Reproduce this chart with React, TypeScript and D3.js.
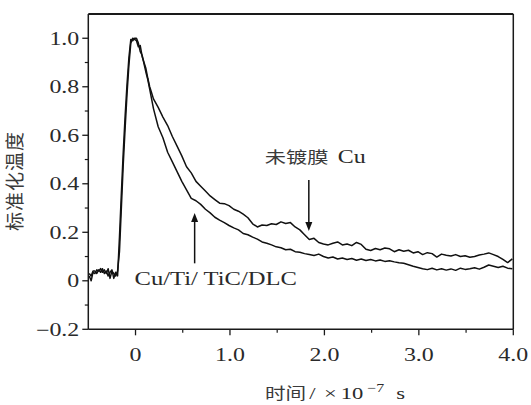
import React from 'react';
import * as d3 from 'd3';

const times = [
  -0.49, -0.47, -0.45, -0.43, -0.41, -0.39, -0.37, -0.35, -0.33, -0.31, -0.29, -0.27, -0.25, -0.23, -0.21, -0.19,
  -0.17, -0.15, -0.13, -0.11, -0.09, -0.07, -0.05, -0.03, -0.01,
  0.01, 0.03, 0.05, 0.07, 0.09, 0.11, 0.13, 0.15, 0.17, 0.19,
  0.24, 0.29, 0.34, 0.39, 0.44, 0.49, 0.54, 0.59, 0.64, 0.69,
  0.74, 0.79, 0.84, 0.89, 0.94, 0.99, 1.04, 1.09, 1.14, 1.19,
  1.24, 1.29, 1.34, 1.39, 1.44, 1.49, 1.54, 1.59, 1.64, 1.69,
  1.74, 1.79, 1.84, 1.89, 1.94, 1.99, 2.04, 2.09, 2.14, 2.19,
  2.24, 2.29, 2.34, 2.39, 2.44, 2.49, 2.54, 2.59, 2.64, 2.69,
  2.74, 2.79, 2.84, 2.89, 2.94, 2.99, 3.04, 3.09, 3.14, 3.19,
  3.24, 3.29, 3.34, 3.39, 3.44, 3.49, 3.54, 3.59, 3.64, 3.69,
  3.74, 3.79, 3.84, 3.89, 3.94, 3.99,
];

// 未镀膜 Cu (upper tail)
const cuValues = [
  0.02, 0.0, 0.035, 0.03, 0.045, 0.04, 0.05, 0.035, 0.045, 0.03, 0.05, 0.01, 0.04, 0.03, 0.02, 0.04,
  0.12, 0.3, 0.48, 0.63, 0.77, 0.89, 0.98, 1.0, 0.995,
  0.99, 0.965, 0.97, 0.925, 0.9, 0.875, 0.835, 0.8, 0.775, 0.75,
  0.715, 0.675, 0.64, 0.595, 0.555, 0.515, 0.47, 0.445, 0.41, 0.39,
  0.37, 0.35, 0.335, 0.32, 0.318, 0.31, 0.295, 0.287, 0.275, 0.26,
  0.235, 0.222, 0.23, 0.228, 0.235, 0.232, 0.243, 0.236, 0.24, 0.222,
  0.21, 0.19, 0.17, 0.175, 0.158, 0.152, 0.148, 0.155, 0.16, 0.148,
  0.152, 0.145, 0.158, 0.15, 0.13, 0.125, 0.133, 0.128, 0.135, 0.132,
  0.12, 0.128, 0.122, 0.126, 0.115, 0.12, 0.108, 0.116, 0.112, 0.098,
  0.11, 0.105, 0.102, 0.108, 0.1, 0.103, 0.097, 0.1, 0.106, 0.11,
  0.115, 0.108, 0.1, 0.088, 0.075, 0.09,
];

// Cu/Ti/ TiC/DLC (lower tail)
const dlcValues = [
  0.03, 0.02, 0.04, 0.04, 0.03, 0.045, 0.035, 0.05, 0.03, 0.04, 0.02, 0.035, 0.045, 0.01, 0.035, 0.02,
  0.18, 0.36, 0.53, 0.68, 0.81, 0.92, 0.995, 0.99, 1.0,
  1.0, 0.98, 0.945, 0.93, 0.895, 0.86, 0.83, 0.79, 0.75, 0.71,
  0.635, 0.59, 0.53, 0.49, 0.45, 0.41, 0.375, 0.34, 0.33, 0.315,
  0.295, 0.28, 0.262, 0.25, 0.24, 0.228, 0.218, 0.21, 0.195, 0.19,
  0.18, 0.172, 0.16, 0.155, 0.148, 0.14, 0.136, 0.128, 0.13, 0.12,
  0.118, 0.112, 0.108, 0.104, 0.11, 0.1, 0.094, 0.098, 0.09, 0.094,
  0.088, 0.092, 0.085, 0.09, 0.084, 0.088, 0.082, 0.086, 0.08, 0.083,
  0.078, 0.074, 0.072, 0.066, 0.06, 0.055, 0.05, 0.046, 0.052, 0.045,
  0.05, 0.044, 0.049, 0.043, 0.052, 0.047, 0.05, 0.054, 0.048, 0.056,
  0.065, 0.06, 0.055, 0.06, 0.052, 0.05,
];

const yTicks = [-0.2, 0, 0.2, 0.4, 0.6, 0.8, 1.0];
const yTickLabels = ['\u22120.2', '0', '0.2', '0.4', '0.6', '0.8', '1.0'];
const yMinorTicks = [-0.1, 0.1, 0.3, 0.5, 0.7, 0.9];
const xTicks = [0, 1, 2, 3, 4];
const xTickLabels = ['0', '1.0', '2.0', '3.0', '4.0'];
const xMinorTicks = [0.5, 1.5, 2.5, 3.5];

// annotation anchors in data units
const cuLabel = { x: 1.368, y: 0.486, text: '未镀膜', latin: 'Cu' };
const cuArrow = { x: 1.835, from: 0.416, to: 0.205 };
const dlcLabel = { x: -0.01, y: -0.019, text: 'Cu/Ti/ TiC/DLC' };
const dlcArrow = { x: 0.626, from: 0.072, to: 0.279 };

export default function App() {
  const W = 531;
  const H = 405;
  const x = d3.scaleLinear().domain([-0.5, 4.0]).range([88.3, 513.3]);
  const y = d3.scaleLinear().domain([-0.2, 1.1]).range([329.3, 14]);
  const line = d3
    .line<number>()
    .x((_, i) => x(times[i]))
    .y((d) => y(d));
  const SX = 1.33;
  const serif = '"Liberation Serif", "Times New Roman", serif';
  const cjk = '"Noto Sans CJK SC", sans-serif';
  const textColor = '#2a2a2a';
  const axisColor = '#1a1a1a';
  const [x0, x1] = x.range();
  const [y0, y1] = y.range();

  const cuTipX = x(cuArrow.x);
  const cuTipY = y(cuArrow.to);
  const dlcTipX = x(dlcArrow.x);
  const dlcTipY = y(dlcArrow.to);

  return (
    <svg
      width={W}
      height={H}
      viewBox={`0 0 ${W} ${H}`}
      style={{ position: 'absolute', left: 0, top: 0, background: '#fff' }}
    >
      <rect x={0} y={0} width={W} height={H} fill="#fff" />

      {/* curves */}
      <path d={line(cuValues) || ''} fill="none" stroke="#111" strokeWidth={1.5} strokeLinejoin="round" />
      <path d={line(dlcValues) || ''} fill="none" stroke="#111" strokeWidth={1.5} strokeLinejoin="round" />

      {/* frame */}
      <line x1={x0} x2={x1} y1={y1} y2={y1} stroke={axisColor} strokeWidth={2} />
      <line x1={x1} x2={x1} y1={y1} y2={y0} stroke={axisColor} strokeWidth={1.5} />
      <line x1={x0} x2={x0} y1={y1} y2={y0} stroke={axisColor} strokeWidth={1.5} />
      <line x1={x0} x2={x1} y1={y0} y2={y0} stroke={axisColor} strokeWidth={1.5} />

      {/* y ticks */}
      {yTicks.map((t, i) => (
        <g key={'yt' + i}>
          <line x1={x0 - 6} x2={x0} y1={y(t)} y2={y(t)} stroke={axisColor} strokeWidth={1.3} />
          <text
            transform={`translate(${x0 - 9},${y(t)}) scale(${SX},1)`}
            dy="0.36em"
            textAnchor="end"
            fontFamily={serif}
            fontSize={18}
            fill={textColor}
          >
            {yTickLabels[i]}
          </text>
        </g>
      ))}
      {yMinorTicks.map((t, i) => (
        <line key={'ym' + i} x1={x0 - 3.5} x2={x0} y1={y(t)} y2={y(t)} stroke={axisColor} strokeWidth={1.2} />
      ))}

      {/* x ticks */}
      {xTicks.map((t, i) => (
        <g key={'xt' + i}>
          <line x1={x(t)} x2={x(t)} y1={y0} y2={y0 + 6} stroke={axisColor} strokeWidth={1.3} />
          <text
            transform={`translate(${x(t)},${y0 + 32}) scale(${SX},1)`}
            textAnchor="middle"
            fontFamily={serif}
            fontSize={18}
            fill={textColor}
          >
            {xTickLabels[i]}
          </text>
        </g>
      ))}
      {xMinorTicks.map((t, i) => (
        <line key={'xm' + i} x1={x(t)} x2={x(t)} y1={y0} y2={y0 + 3.5} stroke={axisColor} strokeWidth={1.2} />
      ))}

      {/* axis titles */}
      <text
        transform={`translate(22,181) rotate(-90)`}
        textAnchor="middle"
        fontFamily={cjk}
        fontSize={19}
        letterSpacing={1}
        fill="#3a3a3a"
      >
        标准化温度
      </text>
      <text transform={`translate(265,399) scale(${SX},1)`} fontFamily={serif} fontSize={17} fill={textColor}>
        <tspan fontFamily={cjk} fontSize={15.5} fill="#3a3a3a">时间</tspan>
        <tspan dx={2.3}>/</tspan>
        <tspan dx={6.3}>×</tspan>
        <tspan dx={3}>10</tspan>
        <tspan dx={3} dy={-7} fontSize={12}>−7</tspan>
        <tspan dx={9} dy={7}>s</tspan>
      </text>

      {/* annotations */}
      <text
        transform={`translate(${x(cuLabel.x)},${y(cuLabel.y)}) scale(${SX},1)`}
        fontFamily={serif}
        fontSize={18}
        fill={textColor}
      >
        <tspan fontFamily={cjk} fontSize={16} fill="#3a3a3a">{cuLabel.text}</tspan>
        <tspan dx={7}>{cuLabel.latin}</tspan>
      </text>
      <line x1={cuTipX} x2={cuTipX} y1={y(cuArrow.from)} y2={cuTipY - 7} stroke="#111" strokeWidth={1.5} />
      <polygon
        points={`${cuTipX},${cuTipY} ${cuTipX - 3.5},${cuTipY - 9} ${cuTipX + 3.5},${cuTipY - 9}`}
        fill="#111"
      />

      <text
        transform={`translate(${x(dlcLabel.x)},${y(dlcLabel.y)}) scale(${SX},1)`}
        fontFamily={serif}
        fontSize={18.5}
        fill={textColor}
      >
        {dlcLabel.text}
      </text>
      <line x1={dlcTipX} x2={dlcTipX} y1={y(dlcArrow.from)} y2={dlcTipY + 7} stroke="#111" strokeWidth={1.5} />
      <polygon
        points={`${dlcTipX},${dlcTipY} ${dlcTipX - 3.5},${dlcTipY + 9} ${dlcTipX + 3.5},${dlcTipY + 9}`}
        fill="#111"
      />
    </svg>
  );
}
